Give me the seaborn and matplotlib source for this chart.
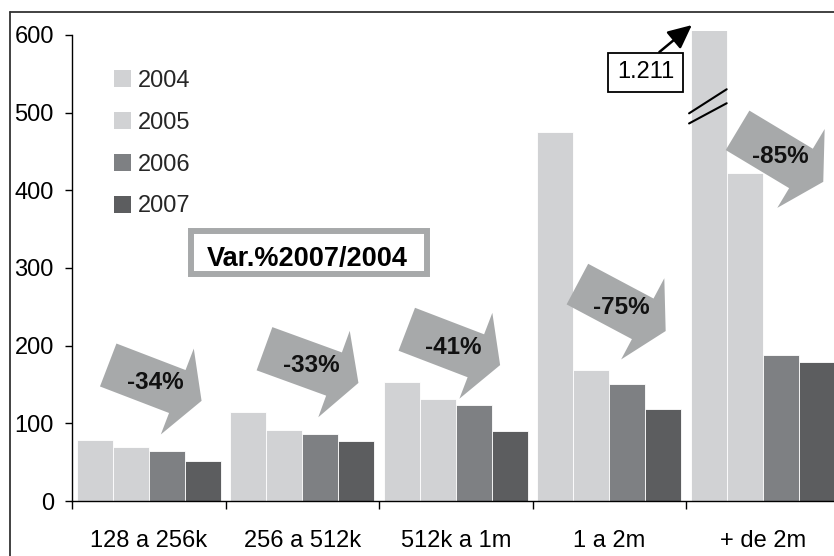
import numpy as np
import pandas as pd
import matplotlib
matplotlib.use("Agg")
import matplotlib.pyplot as plt
import seaborn as sns
from matplotlib.patches import Polygon, Patch, Rectangle
from matplotlib.transforms import Affine2D, ScaledTranslation
from matplotlib.lines import Line2D

# Data: number of connections by speed band
categories = ["128 a 256k", "256 a 512k", "512k a 1m", "1 a 2m", "+ de 2m"]
years = ["2004", "2005", "2006", "2007"]
v2004 = [79, 115, 153, 475, 1211]
v2005 = [70, 91, 131, 169, 422]
v2006 = [64, 86, 123, 150, 188]
v2007 = [52, 77, 90, 118, 179]
colors = ["#D1D2D4", "#D1D2D4", "#7E8083", "#5C5D5F"]

# Layout of the variation arrows (offset from group centre, y in data units, angle)
arrow_dx = [0.04, 0.06, -0.015, 0.08, 0.115]
arrow_y = [152, 174, 198, 249, 444]
arrow_ang = [21, 20, 21, 28, 31]

sns.set_theme(style="white")
plt.rcParams["font.family"] = ["Liberation Sans", "DejaVu Sans"]
FS = 17

W, H = 834, 556

df = pd.DataFrame({
    "rango": categories * len(years),
    "anio": np.repeat(years, len(categories)),
    "valor": v2004 + v2005 + v2006 + v2007,
})

fig = plt.figure(figsize=(W / 100, H / 100), dpi=100)
ax = fig.add_axes([72 / W, 55 / H, 767.5 / W, 470 / H])
sns.barplot(data=df, x="rango", y="valor", hue="anio", palette=colors,
            width=0.94, gap=0, dodge=True, errorbar=None, saturation=1,
            edgecolor="white", linewidth=0.6, legend=False, ax=ax)

ax.set_xlim(-0.5, 4.5)
ax.set_ylim(0, 605)
ax.set_xlabel("")
ax.set_ylabel("")

ax.set_yticks(range(0, 601, 100))
ax.tick_params(axis="y", left=True, length=5, width=1, color="black",
               pad=8, labelsize=FS, labelcolor="black")
ax.set_xticks(np.arange(-0.5, 5, 1))
ax.set_xticklabels([])
ax.set_xticks(range(len(categories)), minor=True)
ax.set_xticklabels(categories, minor=True)
ax.tick_params(axis="x", which="major", bottom=True, length=6, width=1, color="black")
ax.tick_params(axis="x", which="minor", bottom=True, length=0, pad=21,
               labelsize=FS, labelcolor="black")

for s in ["top", "right"]:
    ax.spines[s].set_visible(False)
for s in ["left", "bottom"]:
    ax.spines[s].set_color("black")
    ax.spines[s].set_linewidth(1)
ax.spines["left"].set_bounds(0, 600)

# Axis break on the off-scale bar
bars = [p for p in ax.patches if isinstance(p, Rectangle)]
tall = max(bars, key=lambda p: p.get_height())
x0 = tall.get_x()
x1 = x0 + tall.get_width()
for ya, yb in [(499, 530), (486, 512)]:
    ax.plot([x0 - 0.01, x1], [ya, yb], color="black", lw=1.5, zorder=4)

# Legend
handles = [Patch(facecolor=c, edgecolor="none", label=y) for c, y in zip(colors, years)]
ax.legend(handles=handles, loc="upper left", bbox_to_anchor=(114 / W, 1 - 70 / H),
          bbox_transform=fig.transFigure, frameon=False, fontsize=FS,
          handlelength=0.72, handleheight=0.72, handletextpad=0.28,
          labelspacing=0.84, borderpad=0, borderaxespad=0)

# Caption box
fig.add_artist(Rectangle((191 / W, 1 - 274 / H), 236 / W, 43 / H,
                         transform=fig.transFigure, facecolor="white",
                         edgecolor="#A7A9AA", linewidth=4.3, zorder=3))
fig.text(307 / W, 1 - 266 / H, "Var.%2007/2004", ha="center", va="baseline",
         fontweight="bold", fontsize=19.5, color="black", zorder=4)

# Block arrows with the 2004 -> 2007 change
shape = np.array([[-50, -23], [24, -23], [24, -46], [50, 0],
                  [24, 46], [24, 23], [-50, 23]], dtype=float)
for i in range(len(categories)):
    pct = (v2007[i] / v2004[i] - 1) * 100
    x = i + arrow_dx[i]
    y = arrow_y[i]
    tr = Affine2D().rotate_deg(-arrow_ang[i]) + ScaledTranslation(x, y, ax.transData)
    ax.add_patch(Polygon(shape, closed=True, facecolor="#A7A9AA", edgecolor="none",
                         transform=tr, zorder=5, clip_on=False))
    ax.text(x, y, f"{round(pct):d}%", ha="center", va="center", fontsize=17.5,
            fontweight="bold", color="#111111", zorder=6)

label = f"{tall.get_height():,.0f}".replace(",", ".")
ax.annotate(label, xy=(x0 + 0.008, 612.6), xytext=(3.236, 552), textcoords="data",
            ha="center", va="center", fontsize=FS, color="black",
            bbox=dict(boxstyle="square,pad=0.36", facecolor="white",
                      edgecolor="black", linewidth=1.3),
            arrowprops=dict(arrowstyle="-|>,head_length=0.85,head_width=0.4",
                            color="black", lw=1.8, shrinkA=0, shrinkB=0,
                            relpos=(0.55, 1)),
            annotation_clip=False, zorder=7)

# Outer frame
fig.add_artist(Line2D([10 / W, 1], [1 - 12 / H] * 2, transform=fig.transFigure,
                      color="#333333", lw=1.3))
fig.add_artist(Line2D([10 / W] * 2, [0, 1 - 12 / H], transform=fig.transFigure,
                      color="#333333", lw=1.3))

fig.savefig("out.png", dpi=100)
